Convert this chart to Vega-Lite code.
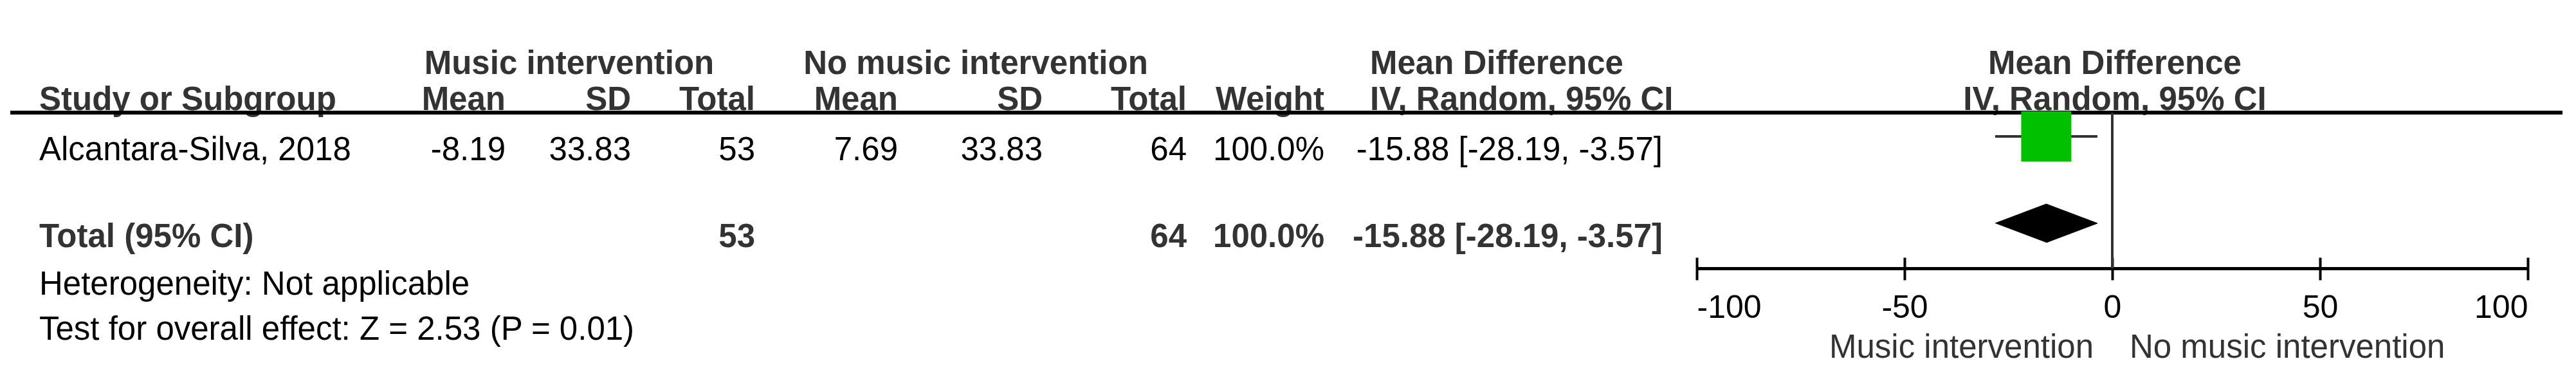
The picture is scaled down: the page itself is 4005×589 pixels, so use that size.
{
  "$schema": "https://vega.github.io/schema/vega-lite/v6.json",
  "width": 3968,
  "height": 417,
  "padding": {"left": 16, "right": 21, "top": 0, "bottom": 172},
  "autosize": {"type": "none"},
  "background": "white",
  "config": {
    "view": {"stroke": null},
    "font": "Liberation Sans",
    "text": {"font": "Liberation Sans", "fontSize": 51, "baseline": "alphabetic", "dy": 37}
  },
  "datasets": {
    "cells": [
      {"row": 0, "col": 2, "text": "Music intervention"},
      {"row": 0, "col": 6, "text": "No music intervention"},
      {"row": 0, "col": 10, "text": "Mean Difference"},
      {"row": 0, "col": 13, "text": "Mean Difference"},
      {"row": 1, "col": 0, "text": "Study or Subgroup"},
      {"row": 1, "col": 1, "text": "Mean"},
      {"row": 1, "col": 3, "text": "SD"},
      {"row": 1, "col": 4, "text": "Total"},
      {"row": 1, "col": 5, "text": "Mean"},
      {"row": 1, "col": 7, "text": "SD"},
      {"row": 1, "col": 8, "text": "Total"},
      {"row": 1, "col": 9, "text": "Weight"},
      {"row": 1, "col": 10, "text": "IV, Random, 95% CI"},
      {"row": 1, "col": 13, "text": "IV, Random, 95% CI"},
      {"row": 3, "col": 0, "text": "Alcantara-Silva, 2018"},
      {"row": 3, "col": 1, "text": "-8.19"},
      {"row": 3, "col": 3, "text": "33.83"},
      {"row": 3, "col": 4, "text": "53"},
      {"row": 3, "col": 5, "text": "7.69"},
      {"row": 3, "col": 7, "text": "33.83"},
      {"row": 3, "col": 8, "text": "64"},
      {"row": 3, "col": 9, "text": "100.0%"},
      {"row": 3, "col": 11, "text": "-15.88 [-28.19, -3.57]"},
      {"row": 4, "col": 0, "text": "Total (95% CI)"},
      {"row": 4, "col": 4, "text": "53"},
      {"row": 4, "col": 8, "text": "64"},
      {"row": 4, "col": 9, "text": "100.0%"},
      {"row": 4, "col": 11, "text": "-15.88 [-28.19, -3.57]"},
      {"row": 5, "col": 0, "text": "Heterogeneity: Not applicable"},
      {"row": 6, "col": 0, "text": "Test for overall effect: Z = 2.53 (P = 0.01)"},
      {"row": 7, "col": 12, "text": "Music intervention"},
      {"row": 7, "col": 14, "text": "No music intervention"}
    ],
    "studies": [
      {"study": "Alcantara-Silva, 2018", "row": 3, "md": -15.88, "lower": -28.19, "upper": -3.57, "weight": 100}
    ],
    "pooled": [
      {"vertex": "lower limit", "level": "middle", "md": -28.19},
      {"vertex": "estimate", "level": "top", "md": -15.88},
      {"vertex": "upper limit", "level": "middle", "md": -3.57},
      {"vertex": "estimate", "level": "bottom", "md": -15.88}
    ]
  },
  "encoding": {
    "y": {
      "field": "row",
      "type": "quantitative",
      "axis": null,
      "scale": {
        "type": "linear",
        "domain": [0, 1, 2, 3, 4, 5, 6, 7],
        "range": [78, 134, 175, 212, 347, 421, 491, 519],
        "zero": false,
        "nice": false
      }
    }
  },
  "layer": [
    {
      "data": {"name": "cells"},
      "encoding": {
        "x": {
          "field": "col",
          "type": "quantitative",
          "axis": null,
          "scale": {
            "domain": [0, 1, 2, 3, 4, 5, 6, 7, 8, 9, 10, 11, 12, 13, 14],
            "range": [45, 770, 869, 965, 1158, 1380, 1501, 1605, 1829, 2043, 2114, 2569, 3239, 3272, 3295],
            "zero": false,
            "nice": false
          }
        },
        "text": {"field": "text", "type": "nominal"}
      },
      "layer": [
        {
          "transform": [{"filter": "indexof([0, 10], datum.col) >= 0 && (datum.row <= 1 || datum.row == 4)"}],
          "mark": {"type": "text", "align": "left", "fontWeight": "bold", "fill": "#333333"}
        },
        {
          "transform": [{"filter": "indexof([0, 10], datum.col) >= 0 && (datum.row == 3 || datum.row == 5 || datum.row == 6)"}],
          "mark": {"type": "text", "align": "left", "fontWeight": "normal", "fill": "#000000"}
        },
        {
          "transform": [{"filter": "indexof([2, 6, 13], datum.col) >= 0"}],
          "mark": {"type": "text", "align": "center", "fontWeight": "bold", "fill": "#333333"}
        },
        {
          "transform": [{"filter": "indexof([1, 3, 4, 5, 7, 8, 9, 11], datum.col) >= 0 && (datum.row <= 1 || datum.row == 4)"}],
          "mark": {"type": "text", "align": "right", "fontWeight": "bold", "fill": "#333333"}
        },
        {
          "transform": [{"filter": "indexof([1, 3, 4, 5, 7, 8, 9, 11], datum.col) >= 0 && (datum.row == 3 || datum.row == 5 || datum.row == 6)"}],
          "mark": {"type": "text", "align": "right", "fontWeight": "normal", "fill": "#000000"}
        },
        {
          "transform": [{"filter": "datum.row == 7 && datum.col == 12"}],
          "mark": {"type": "text", "align": "right", "fontWeight": "normal", "fill": "#333333"}
        },
        {
          "transform": [{"filter": "datum.row == 7 && datum.col == 14"}],
          "mark": {"type": "text", "align": "left", "fontWeight": "normal", "fill": "#333333"}
        },
        {
          "mark": {"type": "rule", "color": "#000000", "strokeWidth": 6},
          "encoding": {
            "x": null,
            "text": null,
            "y": {"datum": 2, "type": "quantitative", "axis": null}
          }
        }
      ]
    },
    {
      "layer": [
        {
          "data": {"name": "studies"},
          "mark": {"type": "rule", "color": "#333333", "strokeWidth": 4},
          "encoding": {
            "x": {"datum": 0, "type": "quantitative", "axis": null},
            "y": {"datum": 2, "type": "quantitative", "axis": null},
            "y2": {"value": "height"}
          }
        },
        {
          "data": {"name": "studies"},
          "mark": {"type": "rule", "color": "#333333", "strokeWidth": 4},
          "encoding": {
            "x": {
              "field": "lower",
              "type": "quantitative",
              "scale": {"domain": [-100, 100], "range": [2622, 3914], "zero": false, "nice": false},
              "axis": {
                "orient": "bottom",
                "values": [-100, -50, 0, 50, 100],
                "title": null,
                "grid": false,
                "domain": true,
                "domainColor": "#000000",
                "domainWidth": 5,
                "ticks": true,
                "tickSize": 18,
                "tickWidth": 4,
                "tickColor": "#000000",
                "labels": true,
                "labelFont": "Liberation Sans",
                "labelFontSize": 50,
                "labelColor": "#000000",
                "labelPadding": 18,
                "labelFlush": true,
                "labelOverlap": false,
                "labelExpr": "'' + datum.value"
              }
            },
            "x2": {"field": "upper"}
          }
        },
        {
          "data": {"name": "studies"},
          "mark": {"type": "point", "shape": "square", "filled": true, "size": 6084, "color": "#00C000", "opacity": 1, "strokeWidth": 0},
          "encoding": {
            "x": {
              "field": "md",
              "type": "quantitative",
              "axis": {
                "orient": "bottom",
                "values": [-100, -50, 0, 50, 100],
                "title": null,
                "grid": false,
                "domain": false,
                "ticks": true,
                "tickSize": -17,
                "tickWidth": 4,
                "tickColor": "#000000",
                "labels": false
              }
            }
          }
        },
        {
          "data": {"name": "pooled"},
          "mark": {"type": "line", "filled": true, "fill": "#000000", "stroke": "#000000", "strokeWidth": 1, "interpolate": "linear"},
          "encoding": {
            "x": {"field": "md", "type": "quantitative", "axis": null},
            "y": {
              "field": "level",
              "type": "nominal",
              "axis": null,
              "scale": {"type": "point", "domain": ["top", "middle", "bottom"], "range": [317, 377], "padding": 0}
            },
            "order": {"value": null}
          }
        }
      ],
      "resolve": {"axis": {"x": "independent"}, "scale": {"y": "independent"}}
    }
  ],
  "resolve": {"scale": {"x": "independent", "y": "independent"}}
}
